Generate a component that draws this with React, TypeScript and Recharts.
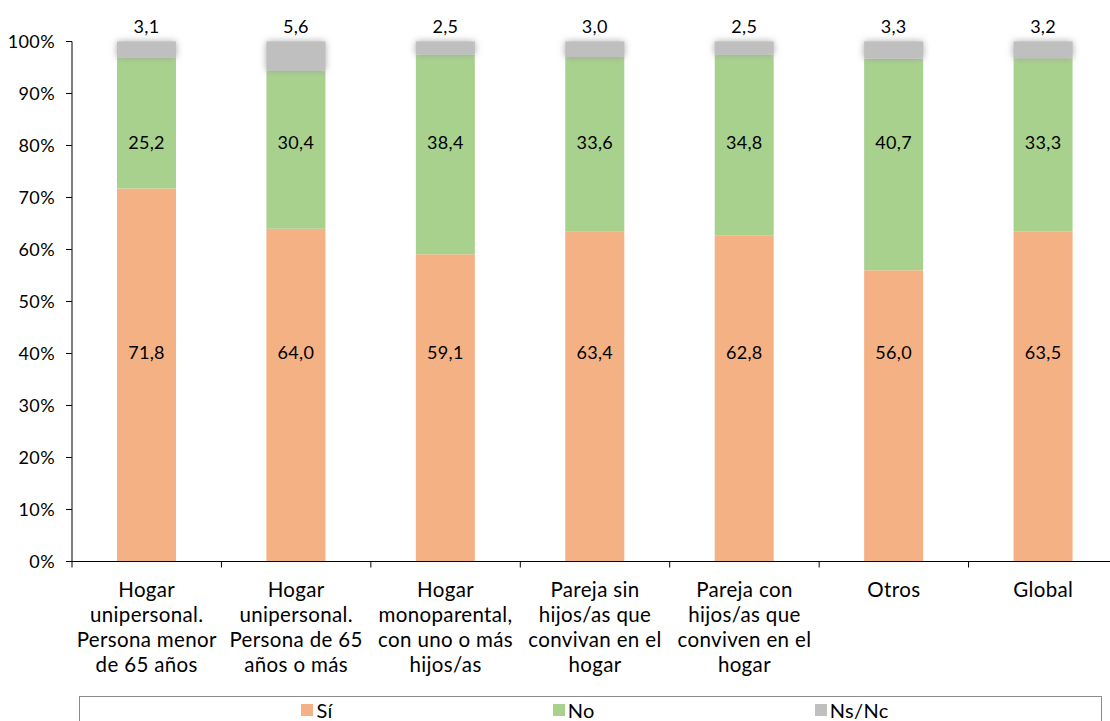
import React from "react";
import { BarChart, Bar, XAxis, YAxis, LabelList } from "recharts";

const categories = [
  "Hogar\nunipersonal.\nPersona menor\nde 65 años",
  "Hogar\nunipersonal.\nPersona de 65\naños o más",
  "Hogar\nmonoparental,\ncon uno o más\nhijos/as",
  "Pareja sin\nhijos/as que\nconvivan en el\nhogar",
  "Pareja con\nhijos/as que\nconviven en el\nhogar",
  "Otros",
  "Global",
];
const siValues = [71.8, 64.0, 59.1, 63.4, 62.8, 56.0, 63.5];
const noValues = [25.2, 30.4, 38.4, 33.6, 34.8, 40.7, 33.3];
const nsncValues = [3.1, 5.6, 2.5, 3.0, 2.5, 3.3, 3.2];
const yTicks = [0, 0.1, 0.2, 0.3, 0.4, 0.5, 0.6, 0.7, 0.8, 0.9, 1];

const series = [
  { key: "si", name: "Sí", color: "#F4B183" },
  { key: "no", name: "No", color: "#A9D18E" },
  { key: "ns", name: "Ns/Nc", color: "#BFBFBF" },
];

const data = categories.map((c, i) => ({
  name: c,
  si: siValues[i],
  no: noValues[i],
  ns: nsncValues[i],
}));

const FONT = "Lato, 'Open Sans', sans-serif";
const fmt = (v: number) => v.toFixed(1).replace(".", ",");

const CategoryTick = (props: any) => {
  const { x, y, payload, index, visibleTicksCount } = props;
  const half = payload && payload.offset ? payload.offset : 74.67;
  const lines = String(payload.value).split("\n");
  return (
    <g>
      <line x1={x - half} x2={x - half} y1={y} y2={y + 6} stroke="#000" strokeWidth={1} />
      {index === (visibleTicksCount ?? 7) - 1 && (
        <line x1={x + half} x2={x + half} y1={y} y2={y + 6} stroke="#000" strokeWidth={1} />
      )}
      <text
        x={x}
        y={y}
        textAnchor="middle"
        fill="#000"
        fontSize={20.5}
        letterSpacing={0.35}
        fontFamily={FONT}
      >
        {lines.map((l, i) => (
          <tspan key={i} x={x} y={y + 35.5 + i * 25}>
            {l}
          </tspan>
        ))}
      </text>
    </g>
  );
};

// Labels placed at a fixed level of the 0-100% scale, derived from the segment geometry
const makeLevelLabel = (values: number[], below: number[] | null, level: number) => (props: any) => {
  const { x, y, width, height, index } = props;
  const total = siValues[index] + noValues[index] + nsncValues[index];
  const frac = values[index] / total;
  const full = height / frac;
  const baseFrac = below ? below[index] / total : 0;
  const bottom = y + height + baseFrac * full;
  const ly = bottom - level * full;
  return (
    <text
      x={x + width / 2}
      y={ly}
      dy="0.35em"
      textAnchor="middle"
      fill="#000"
      fontSize={18}
      letterSpacing={0.3}
      fontFamily={FONT}
    >
      {fmt(values[index])}
    </text>
  );
};

const GrayShape = (props: any) => {
  const { x, y, width, height, fill } = props;
  return <rect x={x} y={y} width={width} height={height} fill={fill} filter="url(#grayGlow)" />;
};

export default function App() {
  return (
    <div
      style={{
        position: "fixed",
        left: 0,
        top: 0,
        width: 1110,
        height: 721,
        overflow: "hidden",
        background: "#fff",
        fontFamily: FONT,
      }}
    >
      <BarChart
        width={1118}
        height={721}
        data={data}
        stackOffset="expand"
        barSize={59}
        margin={{ top: 41.5, right: 0, left: 0, bottom: 0 }}
      >
        <defs>
          <filter id="grayGlow" x="-30%" y="-60%" width="160%" height="220%">
            <feDropShadow dx="0" dy="0" stdDeviation="3.5" floodColor="#999999" floodOpacity="0.85" />
          </filter>
        </defs>
        <XAxis
          dataKey="name"
          height={159.5}
          interval={0}
          tickLine={false}
          tickSize={0}
          tickMargin={0}
          axisLine={{ stroke: "#000", strokeWidth: 1 }}
          tick={<CategoryTick />}
        />
        <YAxis
          width={72}
          ticks={yTicks}
          domain={[0, 1]}
          interval={0}
          tickFormatter={(v: number) => `${Math.round(v * 100)}%`}
          tickSize={6}
          tickMargin={11}
          axisLine={{ stroke: "#000", strokeWidth: 1 }}
          tickLine={{ stroke: "#000", strokeWidth: 1 }}
          tick={{ fill: "#000", fontSize: 18, fontFamily: FONT, letterSpacing: 0.4 }}
        />
        <Bar dataKey="si" stackId="a" fill="#F4B183" isAnimationActive={false}>
          <LabelList dataKey="si" content={makeLevelLabel(siValues, null, 0.402)} />
        </Bar>
        <Bar dataKey="no" stackId="a" fill="#A9D18E" isAnimationActive={false}>
          <LabelList dataKey="no" content={makeLevelLabel(noValues, siValues, 0.805)} />
        </Bar>
        <Bar dataKey="ns" stackId="a" fill="#BFBFBF" isAnimationActive={false} shape={<GrayShape />}>
          <LabelList
            dataKey="ns"
            position="top"
            offset={9}
            formatter={(v: any) => fmt(Number(v))}
            style={{ fill: "#000", fontSize: 18, fontFamily: FONT, letterSpacing: 0.3 }}
          />
        </Bar>
      </BarChart>
      <div
        style={{
          position: "absolute",
          left: 79,
          top: 696,
          width: 1023,
          height: 40,
          border: "1px solid #8c8c8c",
          boxSizing: "border-box",
          display: "flex",
          justifyContent: "center",
          paddingTop: 3,
          paddingLeft: 9,
          gap: 220,
        }}
      >
        {series.map((s) => (
          <div key={s.key} style={{ display: "flex", alignItems: "center", height: 20 }}>
            <div style={{ width: 12, height: 12, background: s.color, marginRight: 3 }} />
            <span style={{ fontSize: 20, color: "#000", lineHeight: "20px", letterSpacing: 0.35 }}>
              {s.name}
            </span>
          </div>
        ))}
      </div>
    </div>
  );
}
